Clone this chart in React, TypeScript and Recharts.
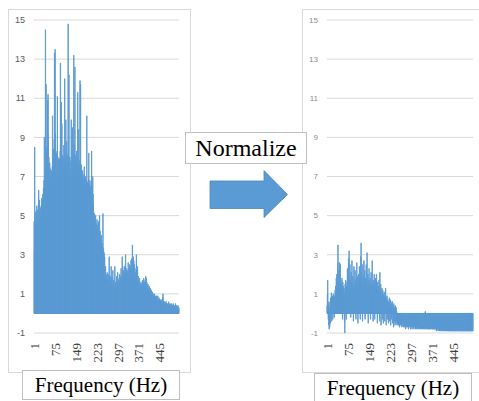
import React from "react";
import { BarChart, Bar, XAxis, YAxis, CartesianGrid } from "recharts";

// spectrum magnitude per frequency bin, before normalisation
const freqLeft: number[] = [
  4.7, 3.2, 8.5, 4.8, 5.2, 4.5, 2.1, 1.7, 4.4, 5.5,
  5.0, 4.6, 5.3, 2.8, 4.9, 5.6, 6.3, 4.7, 5.2, 5.8,
  5.1, 3.0, 4.8, 5.4, 5.0, 5.5, 4.9, 5.9, 5.3, 5.6,
  5.8, 6.1, 5.5, 6.4, 5.9, 6.8, 9.0, 6.2, 7.1, 6.6,
  14.5, 7.4, 11.7, 6.9, 8.2, 8.5, 7.3, 6.8, 10.9, 11.2,
  9.1, 7.6, 8.0, 7.2, 6.9, 7.7, 6.7, 7.4, 6.5, 7.0,
  6.8, 7.3, 6.9, 1.0, 7.5, 10.1, 7.2, 6.8, 8.4, 7.0,
  7.6, 8.9, 13.3, 8.1, 13.5, 9.2, 7.8, 8.3, 7.1, 6.9,
  8.2, 6.5, 11.1, 7.4, 8.0, 7.3, 6.8, 7.9, 7.5, 7.2,
  7.9, 7.1, 8.3, 12.8, 7.6, 8.4, 10.8, 7.7, 9.7, 8.1,
  7.4, 7.8, 8.0, 7.0, 7.6, 8.6, 7.3, 7.9, 12.0, 7.8,
  8.2, 7.5, 9.9, 7.1, 7.7, 8.8, 6.9, 7.4, 8.1, 7.6,
  14.8, 8.3, 7.7, 12.2, 7.9, 7.2, 8.0, 7.4, 6.6, 7.3,
  7.8, 9.9, 7.5, 8.4, 7.1, 9.5, 7.7, 8.2, 6.9, 7.5,
  13.2, 7.9, 8.6, 7.4, 12.6, 7.8, 8.1, 7.2, 7.6, 7.0,
  8.3, 7.4, 7.9, 7.1, 11.3, 7.6, 7.3, 9.4, 7.5, 7.0,
  7.8, 7.2, 11.9, 7.5, 11.7, 7.3, 6.9, 7.6, 7.1, 6.8,
  7.0, 7.3, 6.7, 6.9, 3.2, 6.6, 7.1, 7.5, 6.8, 6.5,
  6.9, 6.4, 7.0, 6.7, 6.3, 6.8, 10.1, 6.6, 6.7, 6.2,
  6.7, 6.4, 6.9, 8.2, 6.5, 6.6, 6.3, 6.8, 6.1, 6.5,
  6.4, 6.0, 6.7, 8.3, 6.2, 6.5, 5.9, 7.0, 6.1, 5.6,
  5.2, 4.8, 4.6, 5.1, 4.7, 4.9, 4.3, 5.0, 4.5, 4.4,
  4.6, 4.2, 4.8, 4.4, 4.1, 4.5, 4.0, 4.3, 4.7, 3.9,
  4.1, 5.0, 3.8, 4.2, 3.6, 3.9, 3.4, 4.0, 3.5, 3.3,
  3.6, 3.2, 3.4, 5.1, 3.0, 3.3, 2.8, 3.1, 2.6, 2.9,
  2.2, 1.8, 2.4, 1.6, 2.0, 1.5, 1.9, 1.4, 2.1, 1.7,
  1.5, 1.8, 1.3, 2.0, 1.6, 2.9, 1.4, 1.7, 1.2, 1.9,
  1.5, 1.3, 2.4, 1.6, 1.1, 1.8, 1.4, 1.2, 2.2, 1.5,
  1.3, 1.7, 1.0, 0.9, 1.4, 2.4, 1.2, 1.6, 1.1, 1.5,
  1.3, 1.9, 1.2, 1.6, 1.4, 2.1, 1.3, 1.7, 1.5, 1.2,
  1.8, 1.4, 2.0, 1.6, 1.3, 1.9, 1.5, 2.3, 1.7, 1.4,
  1.8, 2.9, 1.6, 2.0, 1.5, 2.2, 1.8, 1.6, 2.4, 1.9,
  2.1, 1.7, 2.5, 3.0, 1.9, 2.3, 1.8, 2.1, 1.6, 2.0,
  2.2, 1.8, 2.6, 2.0, 1.7, 2.3, 1.9, 2.5, 2.1, 1.8,
  2.4, 2.0, 2.7, 2.2, 1.9, 2.8, 2.1, 3.5, 2.3, 2.6,
  2.9, 2.2, 2.7, 2.0, 2.5, 1.8, 2.3, 1.9, 2.1, 1.7,
  2.0, 3.0, 1.8, 2.2, 1.6, 2.4, 1.7, 1.5, 1.9, 1.4,
  1.6, 1.3, 1.8, 1.2, 1.5, 1.4, 1.1, 1.6, 1.3, 1.5,
  1.2, 1.4, 1.7, 1.3, 1.5, 1.6, 1.2, 1.8, 1.4, 1.3,
  1.6, 1.5, 1.7, 1.4, 1.9, 1.5, 1.8, 1.3, 1.6, 1.2,
  1.4, 1.1, 1.5, 1.2, 1.3, 1.0, 1.4, 1.1, 1.2, 0.9,
  1.3, 1.0, 1.1, 0.9, 1.2, 0.8, 1.0, 0.9, 1.1, 0.8,
  0.9, 1.0, 0.7, 0.9, 0.8, 1.0, 0.7, 0.8, 0.9, 0.7,
  0.8, 0.6, 0.9, 0.7, 0.8, 0.6, 0.7, 0.9, 0.6, 0.7,
  0.6, 0.8, 0.5, 0.7, 0.6, 0.5, 0.7, 0.6, 0.5, 0.6,
  0.5, 0.7, 0.6, 0.5, 0.8, 1.0, 0.5, 0.6, 0.4, 0.6,
  0.5, 0.4, 0.6, 0.5, 0.4, 0.5, 0.6, 0.4, 0.5, 0.4,
  0.5, 0.4, 0.3, 0.5, 0.4, 0.6, 0.3, 0.4, 0.5, 0.4,
  0.3, 0.4, 0.5, 0.3, 0.4, 0.3, 0.5, 0.4, 0.3, 0.4,
  0.3, 0.5, 0.4, 0.3, 0.4, 0.2, 0.3, 0.4, 0.3, 0.5,
  0.3, 0.4, 0.2, 0.3, 0.4, 0.3, 0.2, 0.3, 0.4, 0.3,
  0.2, 0.3,
];

// same bins after normalisation
const freqRight: number[] = [
  0.4, 1.0, 1.7, 0.6, -0.3, 0.5, -0.6, -0.8, 0.3, -0.7,
  0.6, -0.5, 0.8, 0.4, 0.7, 1.05, -0.4, 0.6, 0.9, 0.5,
  -0.3, 0.7, 1.0, 0.5, 0.8, -0.2, 0.9, 0.6, 1.2, 0.7,
  1.4, 0.8, 1.8, 1.1, 2.0, 1.3, 1.6, 2.6, 3.5, 1.5,
  1.2, 2.2, 1.6, 1.9, 2.6, 1.4, 2.5, 1.3, 1.7, 1.1,
  1.5, 0.9, 1.8, 1.2, -0.3, 1.6, 1.0, 1.4, 0.8, 1.3,
  1.1, -0.4, -1.0, 1.5, 0.9, 1.7, 1.2, -0.3, 1.4, 1.0,
  1.6, 2.3, 1.3, 1.9, 1.1, 2.8, 1.5, 3.2, 1.8, 1.2,
  2.5, 1.4, 1.7, -0.2, 2.1, 1.3, 1.6, 2.7, 1.2, 1.5,
  1.9, 1.1, -0.4, 1.4, 2.4, 1.2, 1.7, 1.0, 2.2, 1.3,
  1.6, -0.3, 1.8, 1.1, 2.6, 1.4, 1.0, 1.9, -0.5, 1.3,
  2.0, 1.2, 1.7, 2.4, 1.1, 1.5, -0.3, 1.8, 2.9, 3.6,
  1.4, 2.1, 1.2, 1.6, -0.4, 2.5, 1.3, 1.9, 1.1, 2.7,
  1.5, 1.2, 2.2, -0.3, 1.4, 1.8, 1.0, 2.5, 1.3, 1.6,
  3.1, 1.4, 1.1, 2.0, -0.5, 1.3, 1.7, 2.3, 1.2, 1.5,
  1.1, 1.8, -0.3, 1.3, 2.1, 1.0, 1.6, 1.2, 2.7, 1.4,
  1.2, -0.4, 1.7, 1.0, 1.5, 2.0, 1.1, -0.3, 1.4, 1.8,
  1.0, 1.3, 1.7, 2.0, 0.9, 1.2, -0.5, 1.6, 1.1, 0.8,
  1.4, 1.0, 1.7, 0.9, -0.4, 2.1, 1.2, 0.8, 1.5, -0.6,
  1.1, 0.7, 1.3, -0.3, 0.9, 1.2, 0.6, -0.5, 1.0, 0.8,
  1.1, 0.6, -0.4, 0.9, 0.7, 1.3, 0.5, -0.6, 0.8, 0.6,
  0.9, -0.3, 0.5, 0.7, 0.4, -0.5, 0.6, 0.3, 0.8, -0.4,
  0.5, 0.7, 0.3, -0.6, 0.6, 0.4, -0.3, 0.5, 0.2, 0.6,
  -0.5, 0.4, 0.3, -0.7, 0.5, 0.2, -0.4, 0.3, -0.6, 0.4,
  0.2, -0.5, 0.3, -0.4, 0.1, -0.6, -0.3, -0.5, -0.4, -0.6,
  -0.5, -0.3, -0.6, -0.4, -0.7, -0.5, -0.3, -0.6, -0.5, -0.4,
  -0.6, -0.4, -0.7, -0.5, -0.6, -0.3, -0.5, -0.7, -0.4, -0.6,
  -0.5, -0.7, -0.4, -0.6, -0.5, -0.8, -0.5, -0.6, -0.4, -0.7,
  -0.6, -0.5, -0.7, -0.4, -0.6, -0.8, -0.5, -0.6, -0.7, -0.5,
  -0.6, -0.7, -0.5, -0.8, -0.6, -0.5, -0.7, -0.6, -0.8, -0.5,
  -0.7, -0.6, -0.5, -0.7, -0.8, -0.6, -0.7, -0.5, -0.6, -0.8,
  -0.6, -0.7, -0.8, -0.6, -0.5, -0.7, -0.8, -0.6, -0.7, -0.6,
  -0.7, -0.8, -0.6, -0.7, -0.5, -0.8, -0.7, -0.6, -0.8, -0.7,
  -0.6, -0.8, -0.7, -0.7, -0.8, -0.6, -0.7, -0.8, -0.7, -0.6,
  -0.8, -0.7, -0.6, -0.8, 0.1, -0.7, -0.8, -0.7, -0.6, -0.8,
  -0.7, -0.8, -0.7, -0.6, -0.8, -0.7, -0.8, -0.7, -0.8, -0.6,
  -0.8, -0.7, -0.8, -0.7, -0.8, -0.7, -0.6, -0.8, -0.7, -0.8,
  -0.7, -0.8, -0.8, -0.7, -0.8, -0.7, -0.8, -0.8, -0.7, -0.8,
  -0.8, -0.7, -0.8, -0.9, -0.7, -0.8, -0.8, -0.7, -0.8, -0.9,
  -0.8, -0.8, -0.7, -0.8, -0.9, -0.8, -0.8, -0.9, -0.7, -0.8,
  -0.9, -0.8, -0.8, -0.7, -0.9, -0.8, -0.9, -0.8, -0.8, -0.9,
  -0.8, -0.9, -0.8, -0.9, -0.8, -0.8, -0.9, -0.8, -0.9, -0.8,
  -0.9, -0.8, -0.9, -0.8, -0.9, -0.9, -0.8, -0.9, -0.8, -0.9,
  -0.8, -0.9, -0.9, -0.8, -0.9, -0.8, -0.9, -0.9, -0.8, -0.9,
  -0.9, -0.8, -0.9, -0.9, -0.8, -0.9, -0.9, -0.8, -0.9, -0.9,
  -0.8, -0.9, -0.9, -0.8, -0.9, -0.9, -0.8, -0.9, -0.9, -0.8,
  -0.9, -0.9, -0.8, -0.9, -0.9, -0.8, -0.9, -0.9, -0.9, -0.8,
  -0.9, -0.9, -0.8, -0.9, -0.9, -0.9, -0.8, -0.9, -0.9, -0.9,
  -0.8, -0.9, -0.9, -0.9, -0.8, -0.9, -0.9, -0.9, -0.8, -0.9,
  -0.9, -0.9, -0.8, -0.9, -0.9, -0.9, -0.8, -0.9, -0.9, -0.9,
  -0.8, -0.9, -0.9, -0.9, -0.8, -0.9, -0.9, -0.9, -0.9, -0.8,
  -0.9, -0.9,
];

// bin numbers (1-based) used as categories
const bins: number[] = freqLeft.map((_, i) => i + 1);
const yTicks = [-1, 1, 3, 5, 7, 9, 11, 13, 15];

const BLUE = "#5B9BD5";

const XTick = (props: any) => {
  const { x, y, payload } = props;
  return (
    <text
      transform={`translate(${x},${y}) rotate(-90)`}
      textAnchor="end"
      dy="0.35em"
      fontFamily="'Liberation Serif', serif"
      fontSize={13}
      fill="#404040"
    >
      {payload.value}
    </text>
  );
};

const makeYTick = (size: number, color: string) => (props: any) => {
  const { x, y, payload } = props;
  return (
    <text x={x} y={y} dy="0.35em" textAnchor="end" fontFamily="'Liberation Sans', sans-serif" fontSize={size} fill={color}>
      {payload.value}
    </text>
  );
};

const LeftYTick = makeYTick(9, "#595959");
const RightYTick = makeYTick(8, "#8C8C8C");

interface PanelProps {
  values: number[];
  left: number;
  width: number;
  yWidth: number;
  right: number;
  yTick: (p: any) => React.ReactElement;
}

const Panel = ({ values, left, width, yWidth, right, yTick }: PanelProps) => {
  const rows = bins.map((f, i) => ({ f, v: values[i] }));
  return (
    <div style={{ position: "absolute", left, top: 9 }}>
      <BarChart
        width={width}
        height={363}
        data={rows}
        margin={{ top: 11, right, bottom: 1, left: 0 }}
        barCategoryGap={0}
        barGap={0}
      >
        <CartesianGrid vertical={false} stroke="#D9D9D9" />
        <XAxis
          dataKey="f"
          interval={73}
          axisLine={false}
          tickLine={false}
          tickSize={0}
          tickMargin={10}
          height={38}
          tick={<XTick />}
        />
        <YAxis
          type="number"
          domain={[-1, 15]}
          ticks={yTicks}
          interval={0}
          axisLine={false}
          tickLine={false}
          tickSize={0}
          tickMargin={9}
          width={yWidth}
          tick={yTick}
        />
        <Bar dataKey="v" fill={BLUE} stroke={BLUE} strokeWidth={0.9} isAnimationActive={false} />
      </BarChart>
    </div>
  );
};

const boxStyle: React.CSSProperties = {
  position: "absolute",
  boxSizing: "border-box",
  border: "1px solid #BFBFBF",
  background: "#fff",
  fontFamily: "'Liberation Serif', serif",
  color: "#000",
  display: "flex",
  alignItems: "center",
  justifyContent: "center",
  whiteSpace: "nowrap",
};

export default function App() {
  return (
    <div style={{ position: "absolute", left: 0, top: 0, width: 479, height: 401, overflow: "hidden", background: "#fff" }}>
      <div style={{ position: "absolute", left: 8, top: 9, width: 183, height: 364, boxSizing: "border-box", border: "1px solid #D9D9D9" }} />
      <div style={{ position: "absolute", left: 302, top: 9, width: 190, height: 364, boxSizing: "border-box", border: "1px solid #D9D9D9" }} />

      <Panel values={freqLeft} left={8} width={183} yWidth={26} right={12} yTick={LeftYTick} />
      <Panel values={freqRight} left={302} width={177} yWidth={25} right={6} yTick={RightYTick} />

      <div style={{ ...boxStyle, left: 185, top: 132, width: 122, height: 32, fontSize: 24 }}>Normalize</div>
      <svg style={{ position: "absolute", left: 0, top: 0 }} width={479} height={401}>
        <polygon
          points="210,181 264,181 264,170.5 287.5,194.5 264,217.5 264,208.5 210,208.5"
          fill={BLUE}
          stroke="#4A85BC"
          strokeWidth={0.8}
        />
      </svg>

      <div style={{ ...boxStyle, left: 22, top: 370, width: 158, height: 30, fontSize: 21 }}>Frequency (Hz)</div>
      <div style={{ ...boxStyle, left: 314, top: 373, width: 158, height: 30, fontSize: 21 }}>Frequency (Hz)</div>
    </div>
  );
}
